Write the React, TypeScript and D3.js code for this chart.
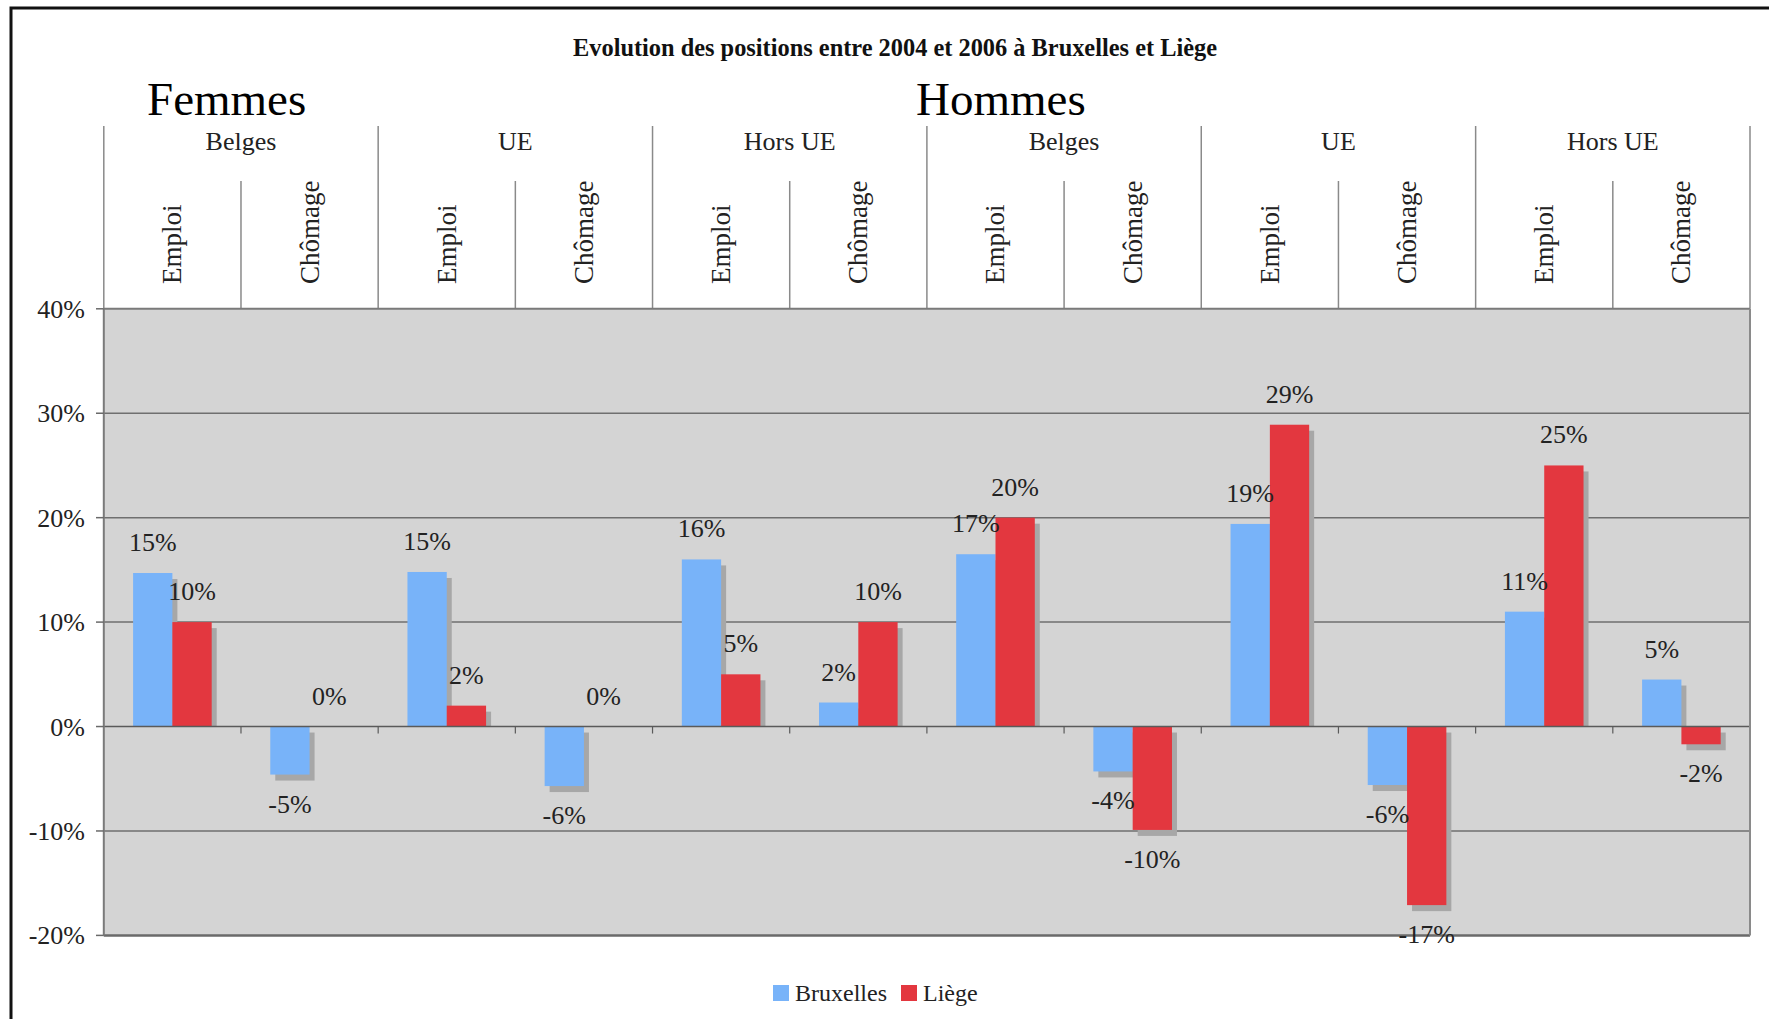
import React from 'react';
import * as d3 from 'd3';

// Données
const sexes = ['Femmes', 'Hommes'];
const groups = ['Belges', 'UE', 'Hors UE', 'Belges', 'UE', 'Hors UE'];
const subs = ['Emploi', 'Chômage'];
const seriesNames = ['Bruxelles', 'Liège'];
const bruxelles = [14.7, -4.6, 14.8, -5.7, 16.0, 2.3, 16.5, -4.3, 19.4, -5.6, 11.0, 4.5];
const liege = [10.0, 0, 2.0, 0, 5.0, 10.0, 20.0, -9.9, 28.9, -17.1, 25.0, -1.7];
const bruxellesLabels = ['15%', '-5%', '15%', '-6%', '16%', '2%', '17%', '-4%', '19%', '-6%', '11%', '5%'];
const liegeLabels = ['10%', '0%', '2%', '0%', '5%', '10%', '20%', '-10%', '29%', '-17%', '25%', '-2%'];
const yTicks = [40, 30, 20, 10, 0, -10, -20];

const colors = ['#78b3f9', '#e3373f'];
const font = '"Liberation Serif", "Times New Roman", serif';

export default function App() {
  const width = 1769;
  const height = 1019;
  const left = 103.8;
  const right = 1750;
  const top = 308.8;
  const bottom = 935.4;

  const cols = d3.range(bruxelles.length);
  const x = d3.scaleBand<number>().domain(cols).range([left, right]).padding(0);
  const inner = d3.scaleBand<string>().domain(seriesNames).range([0, x.bandwidth()])
    .paddingInner(0).paddingOuter(0.745);
  const y = d3.scaleLinear().domain([-20, 40]).range([bottom, top]);
  const groupX = d3.scaleBand<number>().domain(d3.range(groups.length)).range([left, right]);

  const values = [bruxelles, liege];
  const labels = [bruxellesLabels, liegeLabels];
  const y0 = y(0);

  return (
    <svg width={width} height={height} style={{ position: 'absolute', left: 0, top: 0, background: '#fff' }}
      fontFamily={font}>
      <rect x={0} y={0} width={width} height={height} fill="#fff" />
      {/* cadre */}
      <rect x={11} y={8} width={width + 20} height={height + 20} fill="none" stroke="#111" strokeWidth={3} />

      <text x={895} y={56} textAnchor="middle" fontSize={26} fontWeight="bold" fill="#111"
        textLength={644} lengthAdjust="spacingAndGlyphs">
        Evolution des positions entre 2004 et 2006 à Bruxelles et Liège
      </text>
      <text x={147} y={115} fontSize={47} fill="#000">{sexes[0]}</text>
      <text x={916} y={115} fontSize={47} fill="#000">{sexes[1]}</text>

      {/* zone de tracé */}
      <rect x={left} y={top} width={right - left} height={bottom - top} fill="#d4d4d4" />
      {yTicks.filter(t => t !== 40 && t !== -20 && t !== 0).map(t => (
        <line key={t} x1={left} x2={right} y1={y(t)} y2={y(t)} stroke="#6f6f6f" strokeWidth={1.5} />
      ))}

      {/* en-tête */}
      {d3.range(groups.length + 1).map(i => {
        const gx = i < groups.length ? groupX(i)! : right;
        return <line key={'g' + i} x1={gx} x2={gx} y1={126} y2={top} stroke="#8a8a8a" strokeWidth={1.5} />;
      })}
      {groups.map((g, i) => (
        <g key={'gl' + i}>
          <text x={groupX(i)! + groupX.bandwidth() / 2} y={150} textAnchor="middle" fontSize={26} fill="#222">{g}</text>
          <line x1={groupX(i)! + groupX.bandwidth() / 2} x2={groupX(i)! + groupX.bandwidth() / 2}
            y1={181} y2={top} stroke="#8a8a8a" strokeWidth={1.5} />
        </g>
      ))}
      {cols.map(c => {
        const cx = x(c)! + x.bandwidth() / 2 + 9;
        return (
          <text key={'s' + c} transform={`translate(${cx},284) rotate(-90)`} fontSize={27} fill="#222">
            {subs[c % 2]}
          </text>
        );
      })}

      {/* barres */}
      {values.map((vals, s) => vals.map((v, c) => {
        if (v === 0) return null;
        const bx = x(c)! + inner(seriesNames[s])!;
        const bw = inner.bandwidth();
        const yt = y(Math.max(0, v));
        const yb = y(Math.min(0, v));
        const shTop = v > 0 ? yt + 6 : y0 + 6;
        const shBot = v > 0 ? y0 : yb + 6;
        return (
          <g key={`b${s}-${c}`}>
            <rect x={bx + 5} y={shTop} width={bw} height={Math.max(0, shBot - shTop)} fill="#a7a7a7" />
            <rect x={bx} y={yt} width={bw} height={yb - yt} fill={colors[s]} />
          </g>
        );
      }))}

      {/* axe zéro */}
      <line x1={left} x2={right} y1={y0} y2={y0} stroke="#5a5a5a" strokeWidth={1.5} />
      {cols.slice(1).map(c => (
        <line key={'zt' + c} x1={x(c)} x2={x(c)} y1={y0} y2={y0 + 7} stroke="#5a5a5a" strokeWidth={1.2} />
      ))}

      {/* bordures */}
      <line x1={left} x2={right} y1={top} y2={top} stroke="#7a7a7a" strokeWidth={2} />
      <line x1={left} x2={right} y1={bottom} y2={bottom} stroke="#6a6a6a" strokeWidth={2.5} />
      <line x1={left} x2={left} y1={top} y2={bottom} stroke="#7a7a7a" strokeWidth={2} />
      <line x1={right} x2={right} y1={top} y2={bottom} stroke="#8a8a8a" strokeWidth={2} />

      {/* axe y */}
      {yTicks.map(t => (
        <g key={'yt' + t}>
          <line x1={96} x2={left} y1={y(t)} y2={y(t)} stroke="#6a6a6a" strokeWidth={1.5} />
          <text x={85} y={y(t) + 9} textAnchor="end" fontSize={26} fill="#222">{t}%</text>
        </g>
      ))}

      {/* étiquettes */}
      {values.map((vals, s) => vals.map((v, c) => {
        const bx = x(c)! + inner(seriesNames[s])! + inner.bandwidth() / 2;
        const ly = v >= 0 ? y(v) - 22 : y(v) + 38;
        return (
          <text key={`l${s}-${c}`} x={bx} y={ly} textAnchor="middle" fontSize={26} fill="#222">
            {labels[s][c]}
          </text>
        );
      }))}

      {/* légende */}
      <rect x={773} y={985} width={16} height={16} fill={colors[0]} />
      <text x={795} y={1001} fontSize={24} fill="#222">{seriesNames[0]}</text>
      <rect x={901} y={985} width={16} height={16} fill={colors[1]} />
      <text x={923} y={1001} fontSize={24} fill="#222">{seriesNames[1]}</text>
    </svg>
  );
}
